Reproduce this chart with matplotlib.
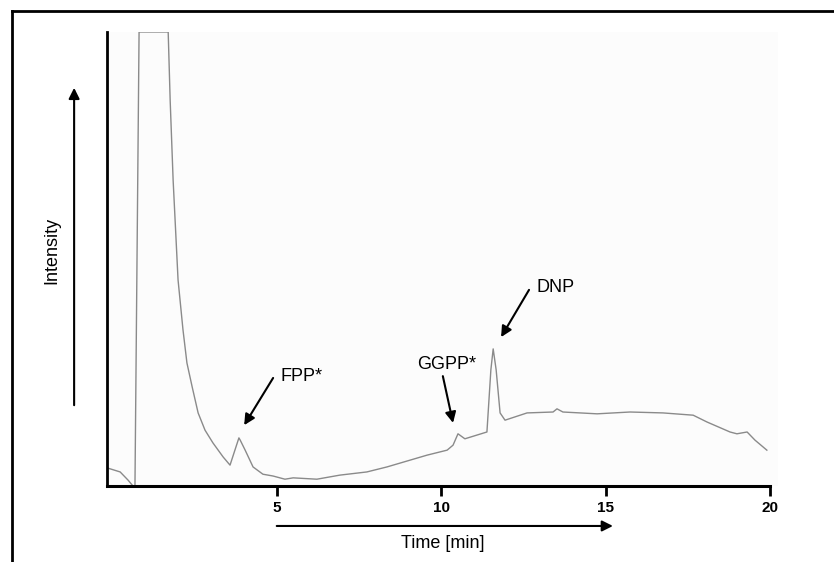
import matplotlib.pyplot as plt
from matplotlib.lines import Line2D

plt.rcParams['font.family'] = ['Liberation Sans', 'DejaVu Sans']

# chromatogram trace (time in min, intensity in % of clipped top)
time_min = [-0.16, 0.24, 0.48, 0.63, 0.69, 0.815, 1.70, 1.76, 1.85, 2.00, 2.15,
            2.27, 2.43, 2.61, 2.82, 3.06, 3.37, 3.58, 3.85, 3.89, 4.04, 4.28,
            4.58, 4.89, 5.25, 5.50, 6.22, 6.92, 7.74, 8.35, 8.96, 9.57, 10.18,
            10.36, 10.51, 10.72, 11.39, 11.51, 11.58, 11.67, 11.79, 11.94,
            12.61, 13.40, 13.52, 13.70, 14.74, 15.74, 16.74, 17.66, 18.08,
            18.78, 18.99, 19.30, 19.54, 19.90]
intensity = [4.0, 3.1, 1.3, 0.0, 0.0, 100, 100, 85.0, 67.4, 45.4, 34.4,
             27.1, 21.8, 16.1, 12.3, 9.5, 6.4, 4.6, 10.6, 10.1, 7.9, 4.2,
             2.6, 2.2, 1.5, 1.8, 1.5, 2.4, 3.1, 4.2, 5.5, 6.8, 7.9,
             9.0, 11.5, 10.4, 11.9, 25.6, 30.2, 25.6, 16.1, 14.5,
             16.1, 16.3, 17.0, 16.3, 15.9, 16.3, 16.1, 15.6, 14.1,
             11.9, 11.5, 11.9, 10.1, 7.9]

x_ticks = [5, 10, 15, 20]

# peak labels: name, text position, arrow tail, arrow head
peaks = ["FPP*", "GGPP*", "DNP"]
label_pos = [(5.10, 24.2), (9.26, 26.7), (12.91, 43.8)]
arrow_tail = [(4.89, 23.8), (10.05, 24.2), (12.67, 43.2)]
arrow_head = [(4.01, 13.4), (10.36, 13.9), (11.82, 32.8)]

fig = plt.figure(figsize=(8.34, 5.62), dpi=100)
ax = fig.add_axes([0.1283, 0.1352, 0.8046, 0.8079])
ax.set_facecolor("#fcfcfc")

ax.plot(time_min, intensity, color="#8a8a8a", lw=1.0)
ax.set_xlim(-0.16, 20.24)
ax.set_ylim(0, 100)

for s in ["top", "right"]:
    ax.spines[s].set_visible(False)
ax.spines["bottom"].set_linewidth(2.2)
ax.spines["left"].set_linewidth(2.0)
ax.spines["bottom"].set_bounds(-0.16, 20)

ax.set_xticks(x_ticks)
ax.set_xticklabels([str(t) for t in x_ticks], fontweight="bold", fontsize=11)
ax.tick_params(axis="x", direction="out", length=7, width=2, pad=4)
ax.set_yticks([])

for name, tp, tail, head in zip(peaks, label_pos, arrow_tail, arrow_head):
    ax.annotate("", xy=head, xytext=tail,
                arrowprops=dict(arrowstyle="-|>", color="black", lw=1.5,
                                mutation_scale=16, shrinkA=0, shrinkB=0))
    ax.text(tp[0], tp[1], name, fontsize=13, ha="left", va="center")

# axis arrows
ax.annotate("", xy=(15.22, -0.088), xytext=(5.0, -0.088),
            xycoords=("data", "axes fraction"), textcoords=("data", "axes fraction"),
            arrowprops=dict(arrowstyle="-|>", color="black", lw=1.5,
                            mutation_scale=16, shrinkA=0, shrinkB=0),
            annotation_clip=False)
ax.annotate("", xy=(-0.049, 0.877), xytext=(-0.049, 0.178),
            xycoords="axes fraction", textcoords="axes fraction",
            arrowprops=dict(arrowstyle="-|>", color="black", lw=1.5,
                            mutation_scale=16, shrinkA=0, shrinkB=0),
            annotation_clip=False)

fig.text(443 / 834, 1 - 544 / 562, "Time [min]", fontsize=13, ha="center", va="center")
fig.text(52 / 834, 1 - 250 / 562, "Intensity", fontsize=13, rotation=90,
         ha="center", va="center")

# outer frame (top and left only)
fig.add_artist(Line2D([12 / 834, 1], [1 - 11 / 562, 1 - 11 / 562],
                      transform=fig.transFigure, color="black", lw=2))
fig.add_artist(Line2D([12 / 834, 12 / 834], [0, 1 - 11 / 562],
                      transform=fig.transFigure, color="black", lw=2))

fig.savefig("out.png", dpi=100)
